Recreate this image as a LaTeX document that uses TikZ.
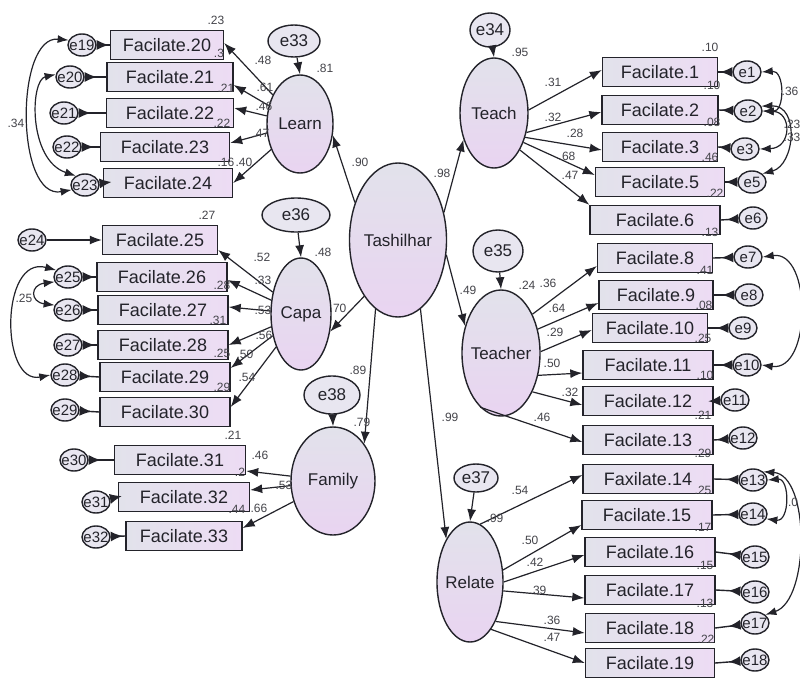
\documentclass[tikz,border=0pt]{standalone}
\usepackage{fontspec}
\setmainfont{Liberation Sans}
\usetikzlibrary{shapes.geometric,arrows.meta}
\newcommand{\zc}[1]{\makebox[0pt]{#1}}
\definecolor{boxl}{RGB}{226,226,235}
\definecolor{boxr}{RGB}{237,220,244}
\definecolor{elt}{RGB}{226,226,235}
\definecolor{elb}{RGB}{233,212,241}
\definecolor{errf}{RGB}{232,230,240}
\definecolor{ink}{RGB}{35,35,42}
\tikzset{
  ind/.style={draw=ink, line width=1.4pt, rectangle, inner sep=0pt, minimum height=29pt, left color=boxl, right color=boxr, font=\fontsize{18}{20}\selectfont, text=ink},
  lat/.style={draw=ink, line width=1.4pt, ellipse, inner sep=0pt, top color=elt, bottom color=elb, font=\fontsize{17}{19}\selectfont, text=ink},
  err/.style={draw=ink, line width=1.4pt, ellipse, inner sep=0pt, minimum width=28pt, minimum height=22pt, fill=errf, font=\fontsize{15}{16}\selectfont, text=ink},
  lerr/.style={draw=ink, line width=1.4pt, ellipse, inner sep=0pt, fill=errf, font=\fontsize{17}{19}\selectfont, text=ink},
  arr/.style={draw=ink, line width=1.2pt, -{Latex[length=12pt,width=9pt]}},
  earr/.style={draw=ink, line width=1.4pt, -{Latex[length=12pt,width=10pt,reversed]}},
  cov/.style={draw=ink, line width=1.2pt, {Latex[length=11pt,width=8pt]}-{Latex[length=11pt,width=8pt]}},
  num/.style={inner sep=0pt, font=\fontsize{12}{14}\selectfont, text=ink!85},
}
\begin{document}
\begin{tikzpicture}[x=1pt,y=-1pt]
\useasboundingbox (0,0) rectangle (800,677);
\fill[white] (0,0) rectangle (800,677);

% indicator boxes
\foreach \n/\x/\y/\w/\t in {
 f20/167/45/113/Facilate.20, f21/170/77/126/Facilate.21, f22/170/113/127/Facilate.22,
 f23/165/147/129/Facilate.23, f24/168/183/129/Facilate.24,
 f25/160/240/115/Facilate.25, f26/162/277/130/Facilate.26, f27/163/310/130/Facilate.27,
 f28/163/345/130/Facilate.28, f29/165/377/130/Facilate.29, f30/165/412/130/Facilate.30,
 f31/180/460/131/Facilate.31, f32/184/497/131/Facilate.32, f33/184/536/116/Facilate.33,
 f1/660/72/115/Facilate.1, f2/660/110/116/Facilate.2, f3/660/147/115/Facilate.3,
 f5/660/182/129/Facilate.5, f6/655/220/130/Facilate.6,
 f8/655/258/115/Facilate.8, f9/656/295/114/Facilate.9, f10/650/328/115/Facilate.10,
 f11/648/365/130/Facilate.11, f12/648/401/130/Facilate.12, f13/648/440/130/Facilate.13,
 f14/648/479/130/Faxilate.14, f15/647/515/130/Facilate.15, f16/650/552/130/Facilate.16,
 f17/650/590/130/Facilate.17, f18/650/628/129/Facilate.18, f19/650/663/129/Facilate.19}
 \node[ind, minimum width=\w pt] (\n) at (\x,\y) {\t};

% error circles of indicators
\foreach \n/\x/\y in {
 e19/82/45, e20/70/77, e21/64/113, e22/67/147, e23/85/185,
 e24/32/240, e25/68/277, e26/68/310, e27/68/345, e28/65/375, e29/65/410,
 e30/74/460, e31/96/502, e32/96/537,
 e1/747/72, e2/748/111, e3/745/149, e5/752/182, e6/753/218,
 e7/748/257, e8/749/295, e9/743/328, e10/747/365, e11/735/400, e12/743/438,
 e13/753/480, e14/753/514, e15/755/557, e16/755/592, e17/755/623, e18/755/660}
 \node[err] (\n) at (\x,\y) {\zc{\n}};

% latent variables
\node[lat, minimum width=66pt, minimum height=98pt] (learn) at (300,124) {\zc{Learn}};
\node[lat, minimum width=60pt, minimum height=112pt] (capa) at (301,314) {\zc{Capa}};
\node[lat, minimum width=97pt, minimum height=154pt] (tash) at (398,240) {\zc{Tashilhar}};
\node[lat, minimum width=84pt, minimum height=108pt] (family) at (333,481) {\zc{Family}};
\node[lat, minimum width=68pt, minimum height=110pt] (teach) at (494,113) {\zc{Teach}};
\node[lat, minimum width=78pt, minimum height=126pt] (teacher) at (501,353) {\zc{Teacher}};
\node[lat, minimum width=66pt, minimum height=120pt] (relate) at (470,582) {\zc{Relate}};

% latent disturbances
\node[lerr, minimum width=52pt, minimum height=32pt] (e33) at (294,41) {\zc{e33}};
\node[lerr, minimum width=68pt, minimum height=34pt] (e36) at (296,215) {\zc{e36}};
\node[lerr, minimum width=40pt, minimum height=34pt] (e34) at (490,30) {\zc{e34}};
\node[lerr, minimum width=50pt, minimum height=42pt] (e35) at (498,251) {\zc{e35}};
\node[lerr, minimum width=44pt, minimum height=28pt] (e37) at (476,478) {\zc{e37}};
\node[lerr, minimum width=56pt, minimum height=38pt] (e38) at (332,395) {\zc{e38}};

% disturbance arrows
\draw[arr] (e33) -- (learn.north);
\draw[arr] (e36) -- (capa.north);
\draw[arr] (e34) -- (teach.north);
\draw[arr] (e35) -- (teacher.north);
\draw[arr] (e37) -- (relate.north);
\draw[arr] (e38) -- (family.north);

% second-order paths
\draw[arr] (tash.139) -- (learn.341);
\draw[arr] (tash.31) -- (teach.221);
\draw[arr] (tash.239) -- (capa.329);
\draw[arr] (tash.252) -- (family.50);
\draw[arr] (tash.343) -- (teacher.143);
\draw[arr] (tash.288) -- (relate.119);

% Learn loadings
\draw[arr] (learn) -- ([yshift=2pt]f20.east);
\draw[arr] (learn) -- ([yshift=-8pt]f21.east);
\draw[arr] (learn) -- ([yshift=5pt]f22.east);
\draw[arr] (learn) -- ([yshift=4pt]f23.east);
\draw[arr] (learn) -- (f24.east);
% Capa loadings
\draw[arr] (capa) -- ([yshift=-10pt]f25.east);
\draw[arr] (capa) -- ([yshift=-3pt]f26.east);
\draw[arr] (capa) -- ([yshift=3pt]f27.east);
\draw[arr] (capa) -- (f28.east);
\draw[arr] (capa) -- ([yshift=9pt]f29.east);
\draw[arr] (capa) -- ([yshift=5pt]f30.east);
% Family loadings
\draw[arr] (family) -- ([yshift=-11pt]f31.east);
\draw[arr] (family) -- ([yshift=7pt]f32.east);
\draw[arr] (family) -- ([yshift=8pt]f33.east);
% Teach loadings
\draw[arr] (teach.5) -- ([yshift=2pt]f1.west);
\draw[arr] (teach.329) -- ([yshift=-2pt]f2.west);
\draw[arr] (teach.322) -- ([yshift=-3pt]f3.west);
\draw[arr] (teach.315) -- ([yshift=7pt]f5.west);
\draw[arr] (teach.305) -- (f6.north west);
% Teacher loadings
\draw[arr] (teacher.51) -- ([yshift=-8pt]f8.west);
\draw[arr] (teacher.33) -- ([yshift=-8pt]f9.west);
\draw[arr] (teacher.2) -- ([yshift=-2pt]f10.west);
\draw[arr] (teacher.329) -- ([yshift=-8pt]f11.west);
\draw[arr] (teacher.309) -- ([yshift=-4pt]f12.west);
\draw[arr] (teacher.249) -- ([yshift=-2pt]f13.west);
% Relate loadings
\draw[arr] (relate.80) -- ([yshift=4pt]f14.west);
\draw[arr] (relate.20) -- ([yshift=-10pt]f15.west);
\draw[arr] (relate.0) -- ([yshift=-3pt]f16.west);
\draw[arr] (relate.345) -- ([yshift=-8pt]f17.west);
\draw[arr] (relate.303) -- ([yshift=-5pt]f18.west);
\draw[arr] (relate.294) -- (f19.west);

% error arrows
\draw[arr] (e24) -- (f25.west);
\foreach \b/\e in {f20/e19, f21/e20, f22/e21, f23/e22, f24/e23, f26/e25, f27/e26, f28/e27,
  f29/e28, f30/e29, f31/e30, f32/e31, f33/e32}
  \draw[earr] (\b.west) -- (\e);
\foreach \b/\e in {f1/e1, f2/e2, f3/e3, f5/e5, f6/e6, f8/e7, f9/e8, f10/e9, f11/e10,
  f12/e11, f13/e12, f14/e13, f15/e14, f16/e15, f17/e16, f18/e17, f19/e18}
  \draw[earr] (\b.east) -- (\e);

% covariances
\draw[cov] (e19.160) .. controls (15,35) and (15,200) .. (e23.200);
\draw[cov] (e20.170) .. controls (30,80) and (28,160) .. (e23.135);
\draw[cov] (e25.150) .. controls (0,255) and (0,385) .. (e28.west);
\draw[cov] (e25.200) .. controls (30,285) and (30,302) .. (e26.160);
\draw[cov] (e1.east) .. controls (785,70) and (785,112) .. (e2.east);
\draw[cov] (e2.east) .. controls (792,112) and (792,148) .. (e3.east);
\draw[cov] (e2.20) .. controls (800,105) and (795,165) .. (e5.north east);
\draw[cov] (e7.east) .. controls (812,250) and (812,372) .. (e10.east);
\draw[cov] (e13.east) .. controls (790,478) and (790,522) .. (e14.-20);
\draw[cov] (e13.north east) .. controls (810,475) and (810,600) .. (e17.north east);

% numbers
\foreach \x/\y/\t [count=\i] in {
 263/60/.48, 265/87/.61, 264/106/.46, 261/133/.47, 244/162/.40, 226/162/.16,
 216/20/.23, 219/53/.3, 226/88/.21, 222/123/.22, 325/68/.81, 360/162/.90,
 207/215/.27, 262/257/.52, 263/280/.33, 263/310/.53, 264/335/.56, 245/354/.50, 247/377/.54,
 222/285/.28, 218/320/.31, 222/353/.25, 222/387/.29, 323/252/.48, 338/308/.70,
 24/298/.25, 16/123/.34,
 233/435/.21, 240/472/.2, 260/455/.46, 284/485/.53, 259/508/.66, 237/509/.44,
 362/422/.79, 358/370/.89,
 442/173/.98, 468/290/.49, 450/417/.99,
 520/52/.95, 553/82/.31, 553/117/.32, 575/133/.28, 567/156/.68, 570/175/.47,
 710/47/.10, 712/85/.10, 712/122/.08, 710/157/.46, 715/193/.22, 710/232/.13,
 790/91/.36, 792/124/.23, 792/137/.33,
 527/285/.24, 548/283/.36, 557/308/.64, 555/332/.29, 552/363/.50, 570/392/.32, 542/417/.46,
 705/270/.41, 704/305/.08, 703/338/.25, 705/375/.10, 703/415/.21, 703/453/.29,
 520/490/.54, 495/518/.99, 530/540/.50, 535/562/.42, 538/590/.39, 552/620/.36, 552/637/.47,
 703/490/.25, 703/527/.17, 705/565/.15, 705/603/.13, 706/639/.22, 793/502/.0}
 \node[num] (lab\i) at (\x,\y) {\t};
\end{tikzpicture}
\end{document}
